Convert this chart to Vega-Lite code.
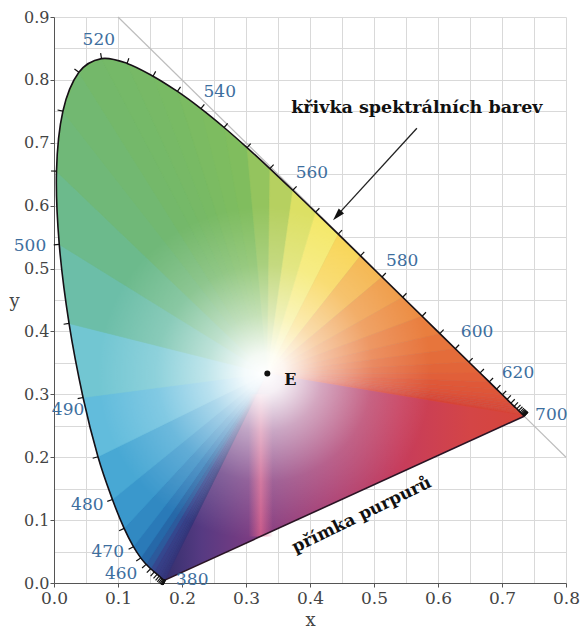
{
  "$schema": "https://vega.github.io/schema/vega-lite/v6.json",
  "width": 512,
  "height": 566,
  "autosize": {"type": "none"},
  "padding": {"left": 54, "top": 17, "right": 15, "bottom": 45},
  "background": "white",
  "config": {"view": {"stroke": null}},
  "datasets": {
    "loc": [
      {"l": 0, "x": 0.3333, "y": 0.3333},
      {"l": 380, "x": 0.1741, "y": 0.0050}, {"l": 385, "x": 0.1740, "y": 0.0050}, {"l": 390, "x": 0.1738, "y": 0.0049},
      {"l": 395, "x": 0.1736, "y": 0.0049}, {"l": 400, "x": 0.1733, "y": 0.0048}, {"l": 405, "x": 0.1730, "y": 0.0048},
      {"l": 410, "x": 0.1726, "y": 0.0048}, {"l": 415, "x": 0.1721, "y": 0.0048}, {"l": 420, "x": 0.1714, "y": 0.0051},
      {"l": 425, "x": 0.1703, "y": 0.0058}, {"l": 430, "x": 0.1689, "y": 0.0069}, {"l": 435, "x": 0.1669, "y": 0.0086},
      {"l": 440, "x": 0.1644, "y": 0.0109}, {"l": 445, "x": 0.1611, "y": 0.0138}, {"l": 450, "x": 0.1566, "y": 0.0177},
      {"l": 455, "x": 0.1510, "y": 0.0227}, {"l": 460, "x": 0.1440, "y": 0.0297}, {"l": 465, "x": 0.1355, "y": 0.0399},
      {"l": 470, "x": 0.1241, "y": 0.0578}, {"l": 475, "x": 0.1096, "y": 0.0868}, {"l": 480, "x": 0.0913, "y": 0.1327},
      {"l": 485, "x": 0.0687, "y": 0.2007}, {"l": 490, "x": 0.0454, "y": 0.2950}, {"l": 495, "x": 0.0235, "y": 0.4127},
      {"l": 500, "x": 0.0082, "y": 0.5384}, {"l": 505, "x": 0.0039, "y": 0.6548}, {"l": 510, "x": 0.0139, "y": 0.7502},
      {"l": 515, "x": 0.0389, "y": 0.8120}, {"l": 520, "x": 0.0743, "y": 0.8338}, {"l": 525, "x": 0.1142, "y": 0.8262},
      {"l": 530, "x": 0.1547, "y": 0.8059}, {"l": 535, "x": 0.1929, "y": 0.7816}, {"l": 540, "x": 0.2296, "y": 0.7543},
      {"l": 545, "x": 0.2658, "y": 0.7243}, {"l": 550, "x": 0.3016, "y": 0.6923}, {"l": 555, "x": 0.3373, "y": 0.6589},
      {"l": 560, "x": 0.3731, "y": 0.6245}, {"l": 565, "x": 0.4087, "y": 0.5896}, {"l": 570, "x": 0.4441, "y": 0.5547},
      {"l": 575, "x": 0.4788, "y": 0.5202}, {"l": 580, "x": 0.5125, "y": 0.4866}, {"l": 585, "x": 0.5448, "y": 0.4544},
      {"l": 590, "x": 0.5752, "y": 0.4242}, {"l": 595, "x": 0.6029, "y": 0.3965}, {"l": 600, "x": 0.6270, "y": 0.3725},
      {"l": 605, "x": 0.6482, "y": 0.3514}, {"l": 610, "x": 0.6658, "y": 0.3340}, {"l": 615, "x": 0.6801, "y": 0.3197},
      {"l": 620, "x": 0.6915, "y": 0.3083}, {"l": 625, "x": 0.7006, "y": 0.2993}, {"l": 630, "x": 0.7079, "y": 0.2920},
      {"l": 635, "x": 0.7140, "y": 0.2859}, {"l": 640, "x": 0.7190, "y": 0.2809}, {"l": 645, "x": 0.7230, "y": 0.2770},
      {"l": 650, "x": 0.7260, "y": 0.2740}, {"l": 655, "x": 0.7283, "y": 0.2717}, {"l": 660, "x": 0.7300, "y": 0.2700},
      {"l": 665, "x": 0.7311, "y": 0.2689}, {"l": 670, "x": 0.7320, "y": 0.2680}, {"l": 675, "x": 0.7327, "y": 0.2673},
      {"l": 680, "x": 0.7334, "y": 0.2666}, {"l": 685, "x": 0.7340, "y": 0.2660}, {"l": 690, "x": 0.7344, "y": 0.2656},
      {"l": 695, "x": 0.7346, "y": 0.2654}, {"l": 700, "x": 0.7347, "y": 0.2653}
    ],
    "fan": [
      {"a": 0, "b": 380, "c": 385}, {"a": 0, "b": 385, "c": 390}, {"a": 0, "b": 390, "c": 395}, {"a": 0, "b": 395, "c": 400},
      {"a": 0, "b": 400, "c": 405}, {"a": 0, "b": 405, "c": 410}, {"a": 0, "b": 410, "c": 415}, {"a": 0, "b": 415, "c": 420},
      {"a": 0, "b": 420, "c": 425}, {"a": 0, "b": 425, "c": 430}, {"a": 0, "b": 430, "c": 435}, {"a": 0, "b": 435, "c": 440},
      {"a": 0, "b": 440, "c": 445}, {"a": 0, "b": 445, "c": 450}, {"a": 0, "b": 450, "c": 455}, {"a": 0, "b": 455, "c": 460},
      {"a": 0, "b": 460, "c": 465}, {"a": 0, "b": 465, "c": 470}, {"a": 0, "b": 470, "c": 475}, {"a": 0, "b": 475, "c": 480},
      {"a": 0, "b": 480, "c": 485}, {"a": 0, "b": 485, "c": 490}, {"a": 0, "b": 490, "c": 495}, {"a": 0, "b": 495, "c": 500},
      {"a": 0, "b": 500, "c": 505}, {"a": 0, "b": 505, "c": 510}, {"a": 0, "b": 510, "c": 515}, {"a": 0, "b": 515, "c": 520},
      {"a": 0, "b": 520, "c": 525}, {"a": 0, "b": 525, "c": 530}, {"a": 0, "b": 530, "c": 535}, {"a": 0, "b": 535, "c": 540},
      {"a": 0, "b": 540, "c": 545}, {"a": 0, "b": 545, "c": 550}, {"a": 0, "b": 550, "c": 555}, {"a": 0, "b": 555, "c": 560},
      {"a": 0, "b": 560, "c": 565}, {"a": 0, "b": 565, "c": 570}, {"a": 0, "b": 570, "c": 575}, {"a": 0, "b": 575, "c": 580},
      {"a": 0, "b": 580, "c": 585}, {"a": 0, "b": 585, "c": 590}, {"a": 0, "b": 590, "c": 595}, {"a": 0, "b": 595, "c": 600},
      {"a": 0, "b": 600, "c": 605}, {"a": 0, "b": 605, "c": 610}, {"a": 0, "b": 610, "c": 615}, {"a": 0, "b": 615, "c": 620},
      {"a": 0, "b": 620, "c": 625}, {"a": 0, "b": 625, "c": 630}, {"a": 0, "b": 630, "c": 635}, {"a": 0, "b": 635, "c": 640},
      {"a": 0, "b": 640, "c": 645}, {"a": 0, "b": 645, "c": 650}, {"a": 0, "b": 650, "c": 655}, {"a": 0, "b": 655, "c": 660},
      {"a": 0, "b": 660, "c": 665}, {"a": 0, "b": 665, "c": 670}, {"a": 0, "b": 670, "c": 675}, {"a": 0, "b": 675, "c": 680},
      {"a": 0, "b": 680, "c": 685}, {"a": 0, "b": 685, "c": 690}, {"a": 0, "b": 690, "c": 695}, {"a": 0, "b": 695, "c": 700}
    ],
    "lab": [
      {"t": "520", "x": 0.070, "y": 0.863}, {"t": "540", "x": 0.259, "y": 0.781}, {"t": "560", "x": 0.403, "y": 0.652},
      {"t": "580", "x": 0.544, "y": 0.512}, {"t": "600", "x": 0.661, "y": 0.399}, {"t": "620", "x": 0.725, "y": 0.334},
      {"t": "700", "x": 0.777, "y": 0.267}, {"t": "500", "x": -0.0375, "y": 0.536}, {"t": "490", "x": 0.022, "y": 0.275},
      {"t": "480", "x": 0.052, "y": 0.124}, {"t": "470", "x": 0.084, "y": 0.049}, {"t": "460", "x": 0.105, "y": 0.015},
      {"t": "380", "x": 0.216, "y": 0.005}
    ]
  },
  "encoding": {
    "x": {
      "field": "x", "type": "quantitative",
      "scale": {"domain": [0, 0.8], "nice": false, "zero": false},
      "axis": {
        "values": [0, 0.05, 0.1, 0.15, 0.2, 0.25, 0.3, 0.35, 0.4, 0.45, 0.5, 0.55, 0.6, 0.65, 0.7, 0.75, 0.8],
        "labelExpr": "round(datum.value*20)%2==0 ? format(datum.value, '.1f') : ''",
        "tickOpacity": {"condition": {"test": "round(datum.value*20)%2==1", "value": 0}, "value": 1},
        "title": "x", "grid": true, "gridColor": "#d9d9d9", "gridWidth": 1,
        "domainColor": "#555", "tickColor": "#555", "tickSize": 4,
        "labelFont": "DejaVu Serif", "labelFontSize": 17, "labelColor": "#444", "labelPadding": 3,
        "labelFlush": false, "labelOverlap": false,
        "titleFont": "DejaVu Serif", "titleFontSize": 18, "titleFontWeight": "normal", "titleColor": "#444",
        "titleY": 42, "titleBaseline": "alphabetic"
      }
    },
    "y": {
      "field": "y", "type": "quantitative",
      "scale": {"domain": [0, 0.9], "nice": false, "zero": false},
      "axis": {
        "values": [0, 0.05, 0.1, 0.15, 0.2, 0.25, 0.3, 0.35, 0.4, 0.45, 0.5, 0.55, 0.6, 0.65, 0.7, 0.75, 0.8, 0.85, 0.9],
        "labelExpr": "round(datum.value*20)%2==0 ? format(datum.value, '.1f') : ''",
        "tickOpacity": {"condition": {"test": "round(datum.value*20)%2==1", "value": 0}, "value": 1},
        "title": "y", "grid": true, "gridColor": "#d9d9d9", "gridWidth": 1,
        "domainColor": "#555", "tickColor": "#555", "tickSize": 4,
        "labelFont": "DejaVu Serif", "labelFontSize": 16, "labelColor": "#444", "labelPadding": 1,
        "labelFlush": false, "labelOverlap": false,
        "titleFont": "DejaVu Serif", "titleFontSize": 18, "titleFontWeight": "normal", "titleColor": "#444",
        "titleAngle": 0, "titleX": -40, "titleY": 289, "titleAlign": "center", "titleBaseline": "alphabetic"
      }
    }
  },
  "layer": [
    {
      "data": {"values": [{"x": 0.1, "y": 0.9, "x2": 0.8, "y2": 0.2}]},
      "mark": {"type": "rule", "color": "#bdbdbd", "strokeWidth": 1.2},
      "encoding": {"x2": {"field": "x2"}, "y2": {"field": "y2"}}
    },
    {
      "data": {"name": "loc"},
      "transform": [{"filter": "datum.l>0"}],
      "mark": {
        "type": "line", "interpolate": "cardinal", "strokeWidth": 0, "strokeOpacity": 0,
        "fill": {
          "gradient": "linear", "x1": 0, "y1": 0, "x2": 0, "y2": 1,
          "stops": [
            {"offset": 0, "color": "#78bc66"}, {"offset": 0.3, "color": "#70ba72"}, {"offset": 0.45, "color": "#6cbc9c"},
            {"offset": 0.62, "color": "#78c8d4"}, {"offset": 0.75, "color": "#48a8d4"}, {"offset": 0.88, "color": "#2a78b6"},
            {"offset": 1, "color": "#2a4a8a"}
          ]
        }
      },
      "encoding": {"order": {"field": "l", "type": "quantitative"}}
    },
    {
      "data": {"name": "fan"},
      "transform": [
        {"fold": ["a", "b", "c"], "as": ["k", "v"]},
        {"lookup": "v", "from": {"data": {"name": "loc"}, "key": "l", "fields": ["x", "y"]}}
      ],
      "mark": {"type": "line", "interpolate": "linear-closed", "strokeWidth": 0.6},
      "encoding": {
        "detail": {"field": "b", "type": "nominal"},
        "order": {"field": "k", "type": "ordinal"},
        "fill": {
          "field": "b", "type": "quantitative", "legend": null,
          "scale": {
            "interpolate": "rgb",
            "domain": [380, 430, 445, 450, 455, 460, 465, 470, 475, 480, 485, 490, 495, 500, 505, 515, 530, 545, 550, 555, 560, 565, 570, 575, 580, 590, 600, 615, 640, 695],
            "range": ["#352f72", "#36377c", "#373f86", "#35478e", "#2c5a9c", "#2668a8", "#2a7ab8", "#3189c2", "#3a98cc", "#48a8d4", "#62bcdc", "#72c6d2", "#6cbea8", "#6cba8c", "#70b878", "#74b86a", "#78ba64", "#80bd5e", "#94c45e", "#b6d060", "#dce064", "#f4e868", "#f8d452", "#f4b44a", "#ef9a44", "#e97e3e", "#e46c3a", "#df5838", "#d94c3a", "#d6453a"]
          }
        },
        "stroke": {
          "field": "b", "type": "quantitative", "legend": null,
          "scale": {
            "interpolate": "rgb",
            "domain": [380, 430, 445, 450, 455, 460, 465, 470, 475, 480, 485, 490, 495, 500, 505, 515, 530, 545, 550, 555, 560, 565, 570, 575, 580, 590, 600, 615, 640, 695],
            "range": ["#352f72", "#36377c", "#373f86", "#35478e", "#2c5a9c", "#2668a8", "#2a7ab8", "#3189c2", "#3a98cc", "#48a8d4", "#62bcdc", "#72c6d2", "#6cbea8", "#6cba8c", "#70b878", "#74b86a", "#78ba64", "#80bd5e", "#94c45e", "#b6d060", "#dce064", "#f4e868", "#f8d452", "#f4b44a", "#ef9a44", "#e97e3e", "#e46c3a", "#df5838", "#d94c3a", "#d6453a"]
          }
        }
      }
    },
    {
      "data": {"name": "loc"},
      "transform": [{"filter": "datum.l==0 || datum.l==380 || datum.l==700"}],
      "mark": {
        "type": "line", "interpolate": "linear-closed", "strokeWidth": 0, "strokeOpacity": 0,
        "fill": {
          "gradient": "linear", "x1": 0, "y1": 0, "x2": 1, "y2": 0,
          "stops": [
            {"offset": 0, "color": "#35306e"}, {"offset": 0.1, "color": "#563a82"}, {"offset": 0.25, "color": "#7e3c82"},
            {"offset": 0.45, "color": "#a63a70"}, {"offset": 0.65, "color": "#c63c5c"}, {"offset": 0.85, "color": "#d44546"},
            {"offset": 1, "color": "#d6453a"}
          ]
        }
      },
      "encoding": {"order": {"field": "l", "type": "quantitative"}}
    },
    {
      "data": {"values": [{"x": 0.304, "x2": 0.342, "y": 0.074, "y2": 0.3}]},
      "mark": {
        "type": "rect",
        "fill": {
          "gradient": "linear", "x1": 0, "y1": 0, "x2": 1, "y2": 0,
          "stops": [
            {"offset": 0, "color": "rgba(226,96,136,0)"}, {"offset": 0.5, "color": "rgba(230,100,140,0.7)"},
            {"offset": 1, "color": "rgba(226,96,136,0)"}
          ]
        }
      },
      "encoding": {"x2": {"field": "x2"}, "y2": {"field": "y2"}}
    },
    {
      "data": {"name": "loc"},
      "transform": [{"filter": "datum.l>0"}],
      "mark": {
        "type": "line", "interpolate": "cardinal", "strokeWidth": 0, "strokeOpacity": 0,
        "fill": {
          "gradient": "radial", "x1": 0.4507, "y1": 0.6037, "r1": 0, "x2": 0.4507, "y2": 0.6037, "r2": 0.32,
          "stops": [
            {"offset": 0, "color": "rgba(255,255,255,1)"}, {"offset": 0.12, "color": "rgba(255,255,255,0.92)"},
            {"offset": 0.35, "color": "rgba(255,255,255,0.55)"}, {"offset": 0.65, "color": "rgba(255,255,255,0.2)"},
            {"offset": 1, "color": "rgba(255,255,255,0)"}
          ]
        }
      },
      "encoding": {"order": {"field": "l", "type": "quantitative"}}
    },
    {
      "data": {"name": "loc"},
      "transform": [{"filter": "datum.l>0"}],
      "mark": {"type": "line", "interpolate": "cardinal", "stroke": "#161016", "strokeWidth": 1.6},
      "encoding": {"order": {"field": "l", "type": "quantitative"}}
    },
    {
      "data": {"values": [{"x": 0.1741, "y": 0.005, "x2": 0.7347, "y2": 0.2653}]},
      "mark": {"type": "rule", "color": "#2a1424", "strokeWidth": 1.6},
      "encoding": {"x2": {"field": "x2"}, "y2": {"field": "y2"}}
    },
    {
      "data": {"name": "loc"},
      "transform": [{"filter": "datum.l>0"}],
      "mark": {"type": "point", "shape": "M0,0L0,-1", "filled": false, "stroke": "#111", "strokeWidth": 1.2, "size": 121, "opacity": 1},
      "encoding": {
        "angle": {
          "field": "l", "type": "quantitative",
          "scale": {
            "domain": [380, 420, 430, 440, 450, 460, 470, 480, 490, 500, 505, 510, 515, 520, 525, 530, 535, 540, 545, 550, 555, 560, 700],
            "range": [-155, -151, -141, -139, -139, -132, -119, -110, -102, -95, -88, -77, -54, -10, 19, 29, 34, 38, 40, 42, 43, 44, 44]
          }
        }
      }
    },
    {
      "data": {"name": "loc"},
      "transform": [{"filter": "datum.l==0"}],
      "mark": {"type": "point", "filled": true, "color": "#111", "size": 36, "opacity": 1}
    },
    {
      "data": {"name": "loc"},
      "transform": [{"filter": "datum.l==0"}],
      "mark": {"type": "text", "text": "E", "font": "DejaVu Serif", "fontWeight": "bold", "fontSize": 16, "color": "#111", "align": "left", "baseline": "middle", "dx": 17, "dy": 7}
    },
    {
      "data": {"name": "lab"},
      "mark": {"type": "text", "font": "DejaVu Serif", "fontSize": 17, "color": "#3d6e9e", "align": "center", "baseline": "middle"},
      "encoding": {"text": {"field": "t"}}
    },
    {
      "data": {"values": [{"x": 0.567, "y": 0.723, "x2": 0.441, "y2": 0.583}]},
      "mark": {"type": "rule", "color": "#222", "strokeWidth": 1.3},
      "encoding": {"x2": {"field": "x2"}, "y2": {"field": "y2"}}
    },
    {
      "data": {"values": [{"x": 0.436, "y": 0.577}]},
      "mark": {"type": "point", "shape": "M0,0L0.55,1.9L-0.55,1.9Z", "filled": true, "color": "#111", "size": 169, "angle": -137.6, "opacity": 1}
    },
    {
      "data": {"values": [{"t": "křivka spektrálních barev", "x": 0.567, "y": 0.755}]},
      "mark": {"type": "text", "font": "DejaVu Serif", "fontWeight": "bold", "fontSize": 17.5, "color": "#111", "align": "center", "baseline": "middle"},
      "encoding": {"text": {"field": "t"}}
    },
    {
      "data": {"values": [{"t": "přímka purpurů", "x": 0.481, "y": 0.108}]},
      "mark": {"type": "text", "font": "DejaVu Serif", "fontWeight": "bold", "fontSize": 17, "color": "#111", "align": "center", "baseline": "middle", "angle": -26},
      "encoding": {"text": {"field": "t"}}
    }
  ]
}
